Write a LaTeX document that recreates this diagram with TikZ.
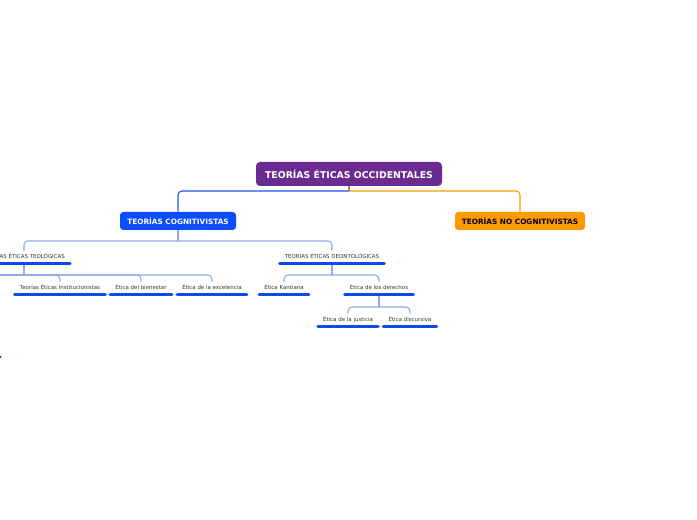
\documentclass[tikz,border=0pt]{standalone}
\usepackage{fontspec}
\setmainfont{DejaVu Sans}
\usetikzlibrary{positioning}

\definecolor{rootpurple}{HTML}{6A2C91}
\definecolor{cogblue}{HTML}{0B4DFF}
\definecolor{nocogorange}{HTML}{FF9A00}
\definecolor{ulblue}{HTML}{0A4BF0}
\definecolor{linkblue}{HTML}{8DA8F3}
\definecolor{mainlink}{HTML}{1E58E8}

\begin{document}
\begin{tikzpicture}[
    x=0.75pt, y=-0.75pt,
    central/.style={rectangle, rounded corners=3pt, fill=rootpurple,
        text=white, font=\fontsize{7}{8}\selectfont\bfseries,
        minimum width=139.5pt, minimum height=18pt, inner sep=0pt},
    mainbox/.style={rectangle, rounded corners=2.5pt, text=white,
        font=\fontsize{5.5}{6}\selectfont\bfseries,
        minimum height=13.5pt, inner sep=0pt},
    topic/.style={font=\fontsize{4.1}{5}\selectfont, text=black!80,
        text height=3pt, text depth=1pt, inner xsep=3.75pt, inner ysep=2.5pt},
    uline/.style={draw=ulblue, line width=2.2pt, line cap=round},
    link/.style={draw=linkblue, line width=0.8pt, rounded corners=3pt},
]
\clip (0,0) rectangle (697,520);

% === Central topic ===
\node[central] (root) at (349,174) {TEORÍAS ÉTICAS OCCIDENTALES};

% === Main topics ===
\node[mainbox, fill=cogblue, minimum width=87pt] (cog) at (178,221)
    {TEORÍAS COGNITIVISTAS};
\node[mainbox, fill=nocogorange, text=black, minimum width=97.5pt] (nocog) at (520,221)
    {TEORÍAS NO COGNITIVISTAS};

\coordinate (rootfork) at (349,191);
\draw[black!45, line width=0.8pt] (root.south) -- (rootfork);
\draw[mainlink, line width=0.8pt, rounded corners=3pt] (rootfork) -| (cog.north);
\draw[nocogorange, line width=0.8pt, rounded corners=3pt] (rootfork) -| (nocog.north);

% === Cognitivist subtopics ===
\node[topic] (teleo) at (24,257) {TEORÍAS ÉTICAS TEOLÓGICAS};
\node[topic] (deonto) at (332,257) {TEORÍAS ÉTICAS DEONTOLÓGICAS};

\coordinate (cogfork) at (178,241);
\draw[link] (cog.south) -- (cogfork);
\foreach \n in {teleo,deonto}
    \draw[link] (cogfork) -| (\n.north);

% === Teleological ===
\node[topic] (inst) at (60,288) {Teorías Éticas Institucionistas};
\node[topic] (bien) at (141,288) {Ética del bienestar};
\node[topic] (exc) at (212,288) {Ética de la excelencia};

\coordinate (telefork) at (24,275);
\coordinate (offleft) at (-20,275);
\draw[link] (teleo.south) -- (telefork);
\draw[link] (telefork) -- (offleft);
\foreach \n in {inst,bien,exc}
    \draw[link] (telefork) -| (\n.north);

% === Deontological ===
\node[topic] (kant) at (284,288) {Ética Kantiana};
\node[topic] (der) at (379,288) {Ética de los derechos};

\coordinate (deofork) at (332,275);
\draw[link] (deonto.south) -- (deofork);
\foreach \n in {kant,der}
    \draw[link] (deofork) -| (\n.north);

\node[topic] (just) at (348,320) {Ética de la justicia};
\node[topic] (disc) at (410,320) {Ética discursiva};

\coordinate (derfork) at (379,307);
\draw[link] (der.south) -- (derfork);
\foreach \n in {just,disc}
    \draw[link] (derfork) -| (\n.north);

% === Underlines ===
\foreach \n in {teleo,deonto,inst,bien,exc,kant,der,just,disc}
    \draw[uline] (\n.south west) -- (\n.south east);

\coordinate (offdot) at (0.5,357);
\draw[uline] (offdot) -- ++(-8,0);

\end{tikzpicture}
\end{document}
